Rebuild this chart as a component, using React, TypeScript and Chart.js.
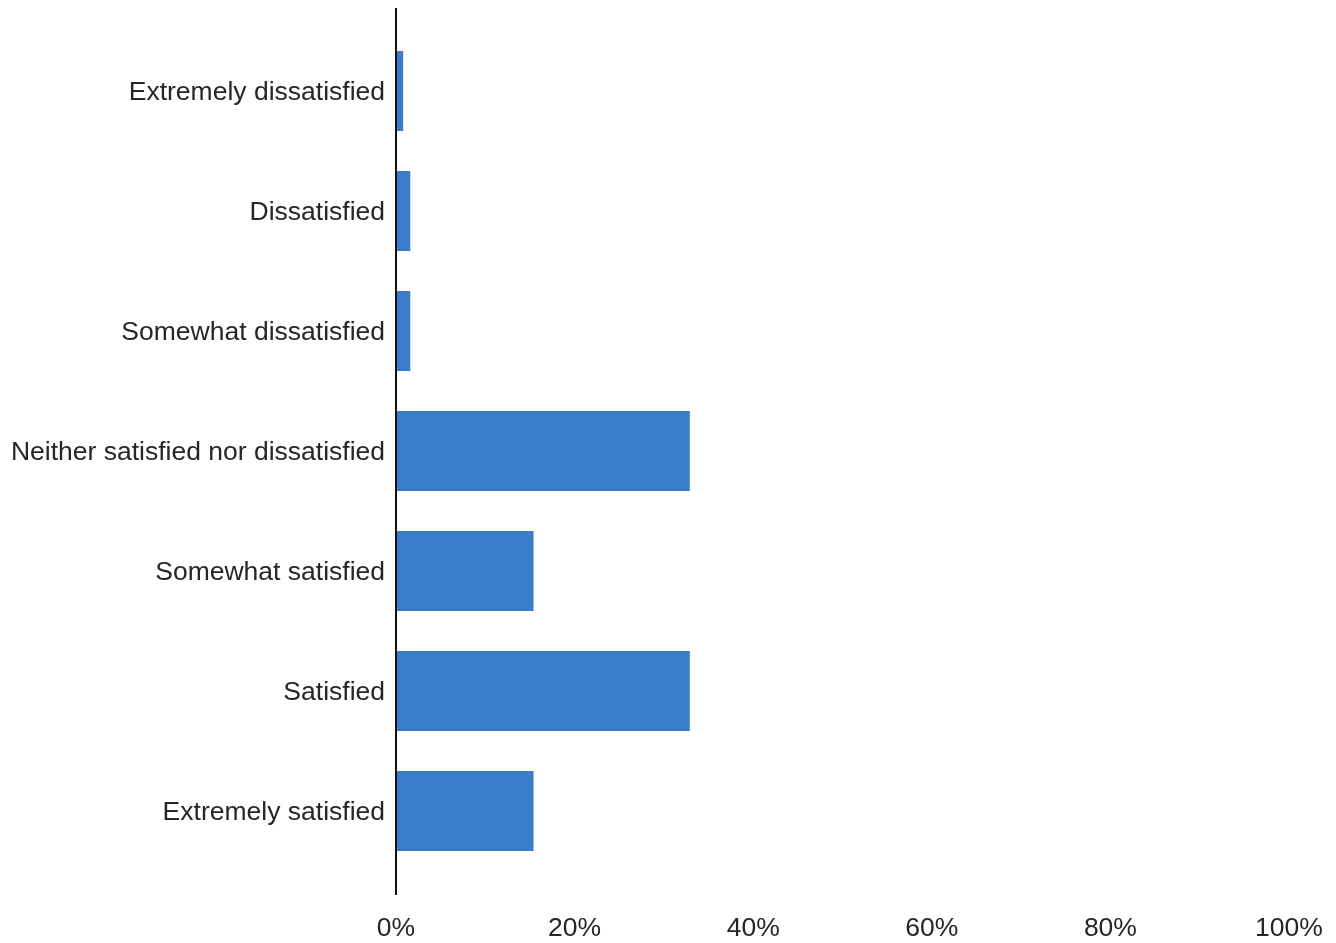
import React, { useEffect, useRef } from "react";
import { Chart, registerables } from "chart.js";

Chart.register(...registerables);

const categories = [
  "Extremely dissatisfied",
  "Dissatisfied",
  "Somewhat dissatisfied",
  "Neither satisfied nor dissatisfied",
  "Somewhat satisfied",
  "Satisfied",
  "Extremely satisfied",
];
const percentages = [0.8, 1.6, 1.6, 32.9, 15.4, 32.9, 15.4];
const xTickValues = [0, 20, 40, 60, 80, 100];

const FONT = "'Liberation Sans', Arial, Helvetica, sans-serif";
const TEXT = "#262626";
const BAR = "#3A7DC9";

const axisLinePlugin = {
  id: "axisLine",
  afterDatasetsDraw(chart: any) {
    const ctx = chart.ctx;
    const x = chart.scales.x.getPixelForValue(0);
    ctx.save();
    ctx.strokeStyle = "#111111";
    ctx.lineWidth = 2;
    ctx.beginPath();
    ctx.moveTo(x, 8);
    ctx.lineTo(x, 895);
    ctx.stroke();
    ctx.restore();
  },
};

export default function App() {
  const ref = useRef<HTMLCanvasElement | null>(null);
  useEffect(() => {
    if (!ref.current) return;
    const chart = new Chart(ref.current, {
      type: "bar",
      data: {
        labels: categories,
        datasets: [
          {
            data: percentages,
            backgroundColor: BAR,
            borderWidth: 0,
            categoryPercentage: 1,
            barPercentage: 0.6667,
          },
        ],
      },
      options: {
        indexAxis: "y",
        animation: false,
        responsive: false,
        maintainAspectRatio: false,
        layout: { padding: { top: 31, right: 0, left: 0, bottom: 0 } },
        plugins: {
          legend: { display: false },
          tooltip: { enabled: false },
        },
        scales: {
          x: {
            min: 0,
            max: 100,
            afterBuildTicks(scale: any) {
              scale.ticks = xTickValues.map((v) => ({ value: v }));
            },
            afterFit(scale: any) {
              scale.height = 72;
              scale.paddingLeft = 0;
              scale.paddingRight = 47;
            },
            grid: { display: false, drawTicks: false },
            border: { display: false },
            ticks: {
              padding: 42,
              color: TEXT,
              font: { family: FONT, size: 26.5 },
              callback: (v: any) => `${v}%`,
              maxRotation: 0,
              autoSkip: false,
            },
          },
          y: {
            afterFit(scale: any) {
              scale.width = 396;
            },
            grid: { display: false, drawTicks: false },
            border: { display: false },
            ticks: {
              padding: 11,
              labelOffset: 2,
              color: TEXT,
              font: { family: FONT, size: 26.5 },
              autoSkip: false,
            },
          },
        },
      },
      plugins: [axisLinePlugin],
    });
    return () => chart.destroy();
  }, []);
  return (
    <div style={{ position: "fixed", left: 0, top: 0, width: 1336, height: 943, background: "#ffffff" }}>
      <canvas ref={ref} width={1336} height={943} style={{ width: 1336, height: 943, display: "block" }} />
    </div>
  );
}
